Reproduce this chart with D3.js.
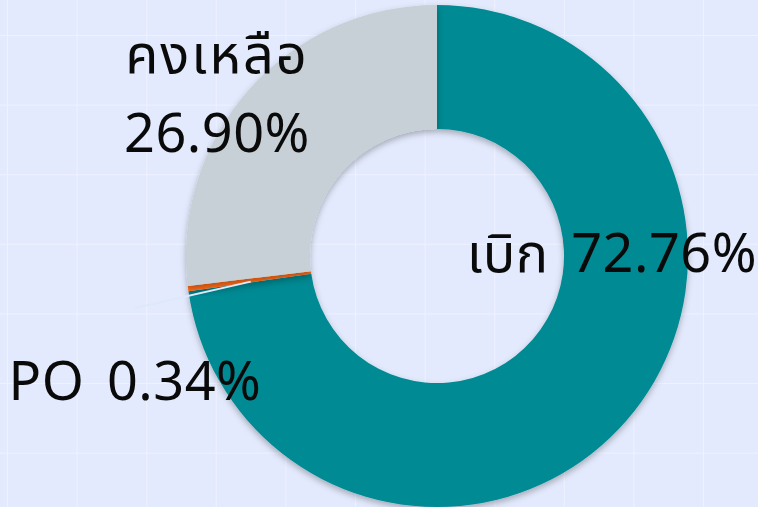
<!DOCTYPE html>
<html>
<head>
<meta charset="utf-8">
<script src="https://cdn.jsdelivr.net/npm/d3@7"></script>
<style>
  html, body { margin: 0; padding: 0; background: #e3eafd; }
  svg { display: block; }
  text { font-family: "Noto Sans Thai", "Noto Sans", "Open Sans", sans-serif; fill: #0a0a0a; }
</style>
</head>
<body>
<script>
var categories = ["เบิก", "PO", "คงเหลือ"];
var values = [72.76, 0.34, 26.90];
var colors = ["#018a93", "#ff6a13", "#c6d0d6"];
var labelText = ["เบิก 72.76%", "PO 0.34%", "คงเหลือ|26.90%"];
var labelPos = [[612, 272], [135, 400], [217, 73]];

var width = 758, height = 507;
var svg = d3.select("body").append("svg").attr("width", width).attr("height", height);

var defs = svg.append("defs");
var f = defs.append("filter").attr("id", "shadow").attr("x", "-20%").attr("y", "-20%").attr("width", "140%").attr("height", "140%");
f.append("feDropShadow").attr("dx", 0).attr("dy", 3).attr("stdDeviation", 3)
  .attr("flood-color", "#000").attr("flood-opacity", 0.28);

// faint grid
var gx = d3.range(7.5, width, 69.6), gy = d3.range(35.5, height, 69.6);
svg.selectAll("line.gx").data(gx).enter().append("line")
  .attr("x1", function (d) { return d; }).attr("x2", function (d) { return d; })
  .attr("y1", 0).attr("y2", height)
  .attr("stroke", "#eef2fe").attr("stroke-width", 1);
svg.selectAll("line.gy").data(gy).enter().append("line")
  .attr("y1", function (d) { return d; }).attr("y2", function (d) { return d; })
  .attr("x1", 0).attr("x2", width)
  .attr("stroke", "#eef2fe").attr("stroke-width", 1);

var cx = 437, cy = 256, outerR = 251, innerR = 127;
var pie = d3.pie().sort(null).value(function (d) { return d; });
var arc = d3.arc().innerRadius(innerR).outerRadius(outerR);
var arcs = pie(values);

var g = svg.append("g").attr("transform", "translate(" + cx + "," + cy + ")");
g.selectAll("path").data(arcs).enter().append("path")
  .attr("d", arc)
  .attr("fill", function (d, i) { return colors[i]; })
  .attr("filter", "url(#shadow)");

// leader line for the small PO slice, from the slice edge toward its label
var po = arcs[1];
var a0 = po.startAngle + 0.004, rIn = 188;
g.append("line")
  .attr("x1", Math.sin(a0) * rIn).attr("y1", -Math.cos(a0) * rIn)
  .attr("x2", labelPos[1][0] - cx).attr("y2", labelPos[1][1] - 92 - cy)
  .attr("stroke", "#dde8fa").attr("stroke-width", 2);

// labels
labelText.forEach(function (t, i) {
  var lines = t.split("|");
  lines.forEach(function (s, j) {
    svg.append("text")
      .attr("x", labelPos[i][0])
      .attr("y", labelPos[i][1] + j * 79)
      .attr("text-anchor", "middle")
      .attr("font-size", 54)
      .attr("letter-spacing", j === 0 && i === 2 ? 2 : 0.5)
      .attr("word-spacing", 8)
      .text(s);
  });
});
</script>
</body>
</html>
